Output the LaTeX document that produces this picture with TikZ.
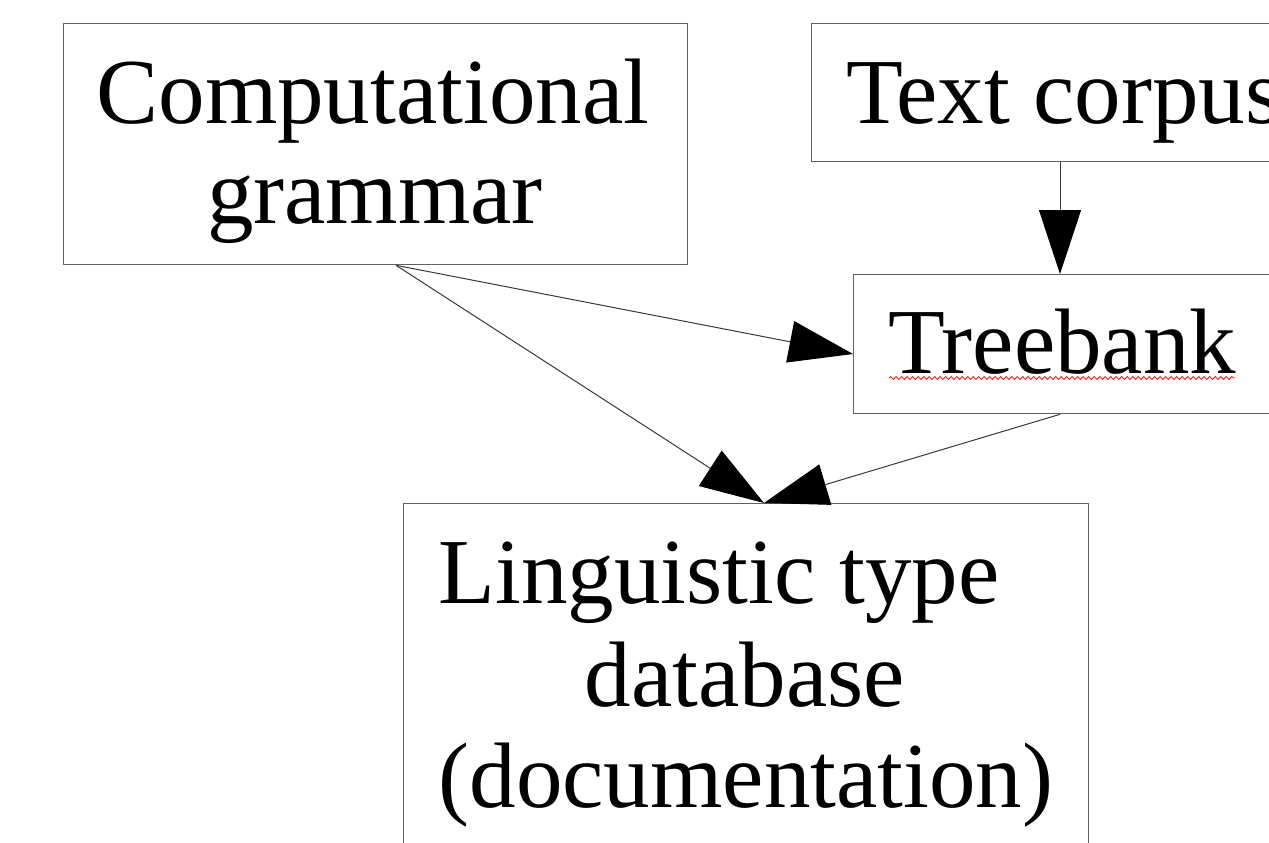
\documentclass[tikz,border=0pt]{standalone}
\usepackage{fontspec}
\setmainfont{Liberation Serif}
\usetikzlibrary{arrows.meta,calc,decorations.pathmorphing}

\tikzset{
  box/.style={draw=black!62, line width=1.3pt, rectangle, inner sep=0pt,
              anchor=north west},
  lbl/.style={inner sep=0pt, font=\fontsize{93}{100}\selectfont},
  link/.style={draw=black!78, line width=1pt,
               -{Triangle[length=64pt,width=42pt,color=black]}},
  spell/.style={draw=red!85, line width=0.9pt,
                decorate, decoration={snake, segment length=5.5pt, amplitude=1.4pt}}
}

\begin{document}
\begin{tikzpicture}[x=1pt,y=-1pt]
  \useasboundingbox (0,0) rectangle (1269,843);
  \clip (0,0) rectangle (1269,843);

  % boxes
  \node[box, minimum width=624pt, minimum height=241pt] (cg)  at (63,23)  {};
  \node[box, minimum width=500pt, minimum height=138pt] (tc)  at (811,23) {};
  \node[box, minimum width=440pt, minimum height=139pt] (tb)  at (853,274) {};
  \node[box, minimum width=685pt, minimum height=420pt] (ltd) at (403,503) {};

  % box texts
  \node[lbl, anchor=base] (cg1) at (373,123) {Computational};
  \node[lbl, anchor=base] (cg2) at (375,223) {grammar};
  \node[lbl, anchor=base west] (tc1) at (846,123) {Text corpus};
  \node[lbl, anchor=base west] (tb1) at (888,373) {Treebank};
  \node[lbl, anchor=base] (ltd3) at (746,807) {(documentation)};
  \coordinate (row1) at (0,603);
  \node[lbl, anchor=base west] (ltd1) at (ltd3.base west |- row1) {Linguistic type};
  \node[lbl, anchor=base] (ltd2) at (745,706) {database};

  % spell-check underline
  \coordinate (wavyA) at (889,378);
  \coordinate (wavyB) at (1235,378);
  \draw[spell] (wavyA) -- (wavyB);

  % connection points
  \coordinate (cgout)  at ($(cg.south west)+(333,0)$);
  \coordinate (tcout)  at ($(tc.south west)+(249,0)$);
  \coordinate (tbtop)  at ($(tb.north west)+(207,0)$);
  \coordinate (tbin)   at ($(tb.north west)+(0,80)$);
  \coordinate (tbout)  at ($(tb.south west)+(207,0)$);
  \coordinate (ltdin)  at ($(ltd.north west)+(361,0)$);

  % connectors
  \draw[link] (tcout) -- (tbtop);
  \draw[link] (cgout) -- (tbin);
  \draw[link] (cgout) -- (ltdin);
  \draw[link] (tbout) -- (ltdin);
\end{tikzpicture}
\end{document}
